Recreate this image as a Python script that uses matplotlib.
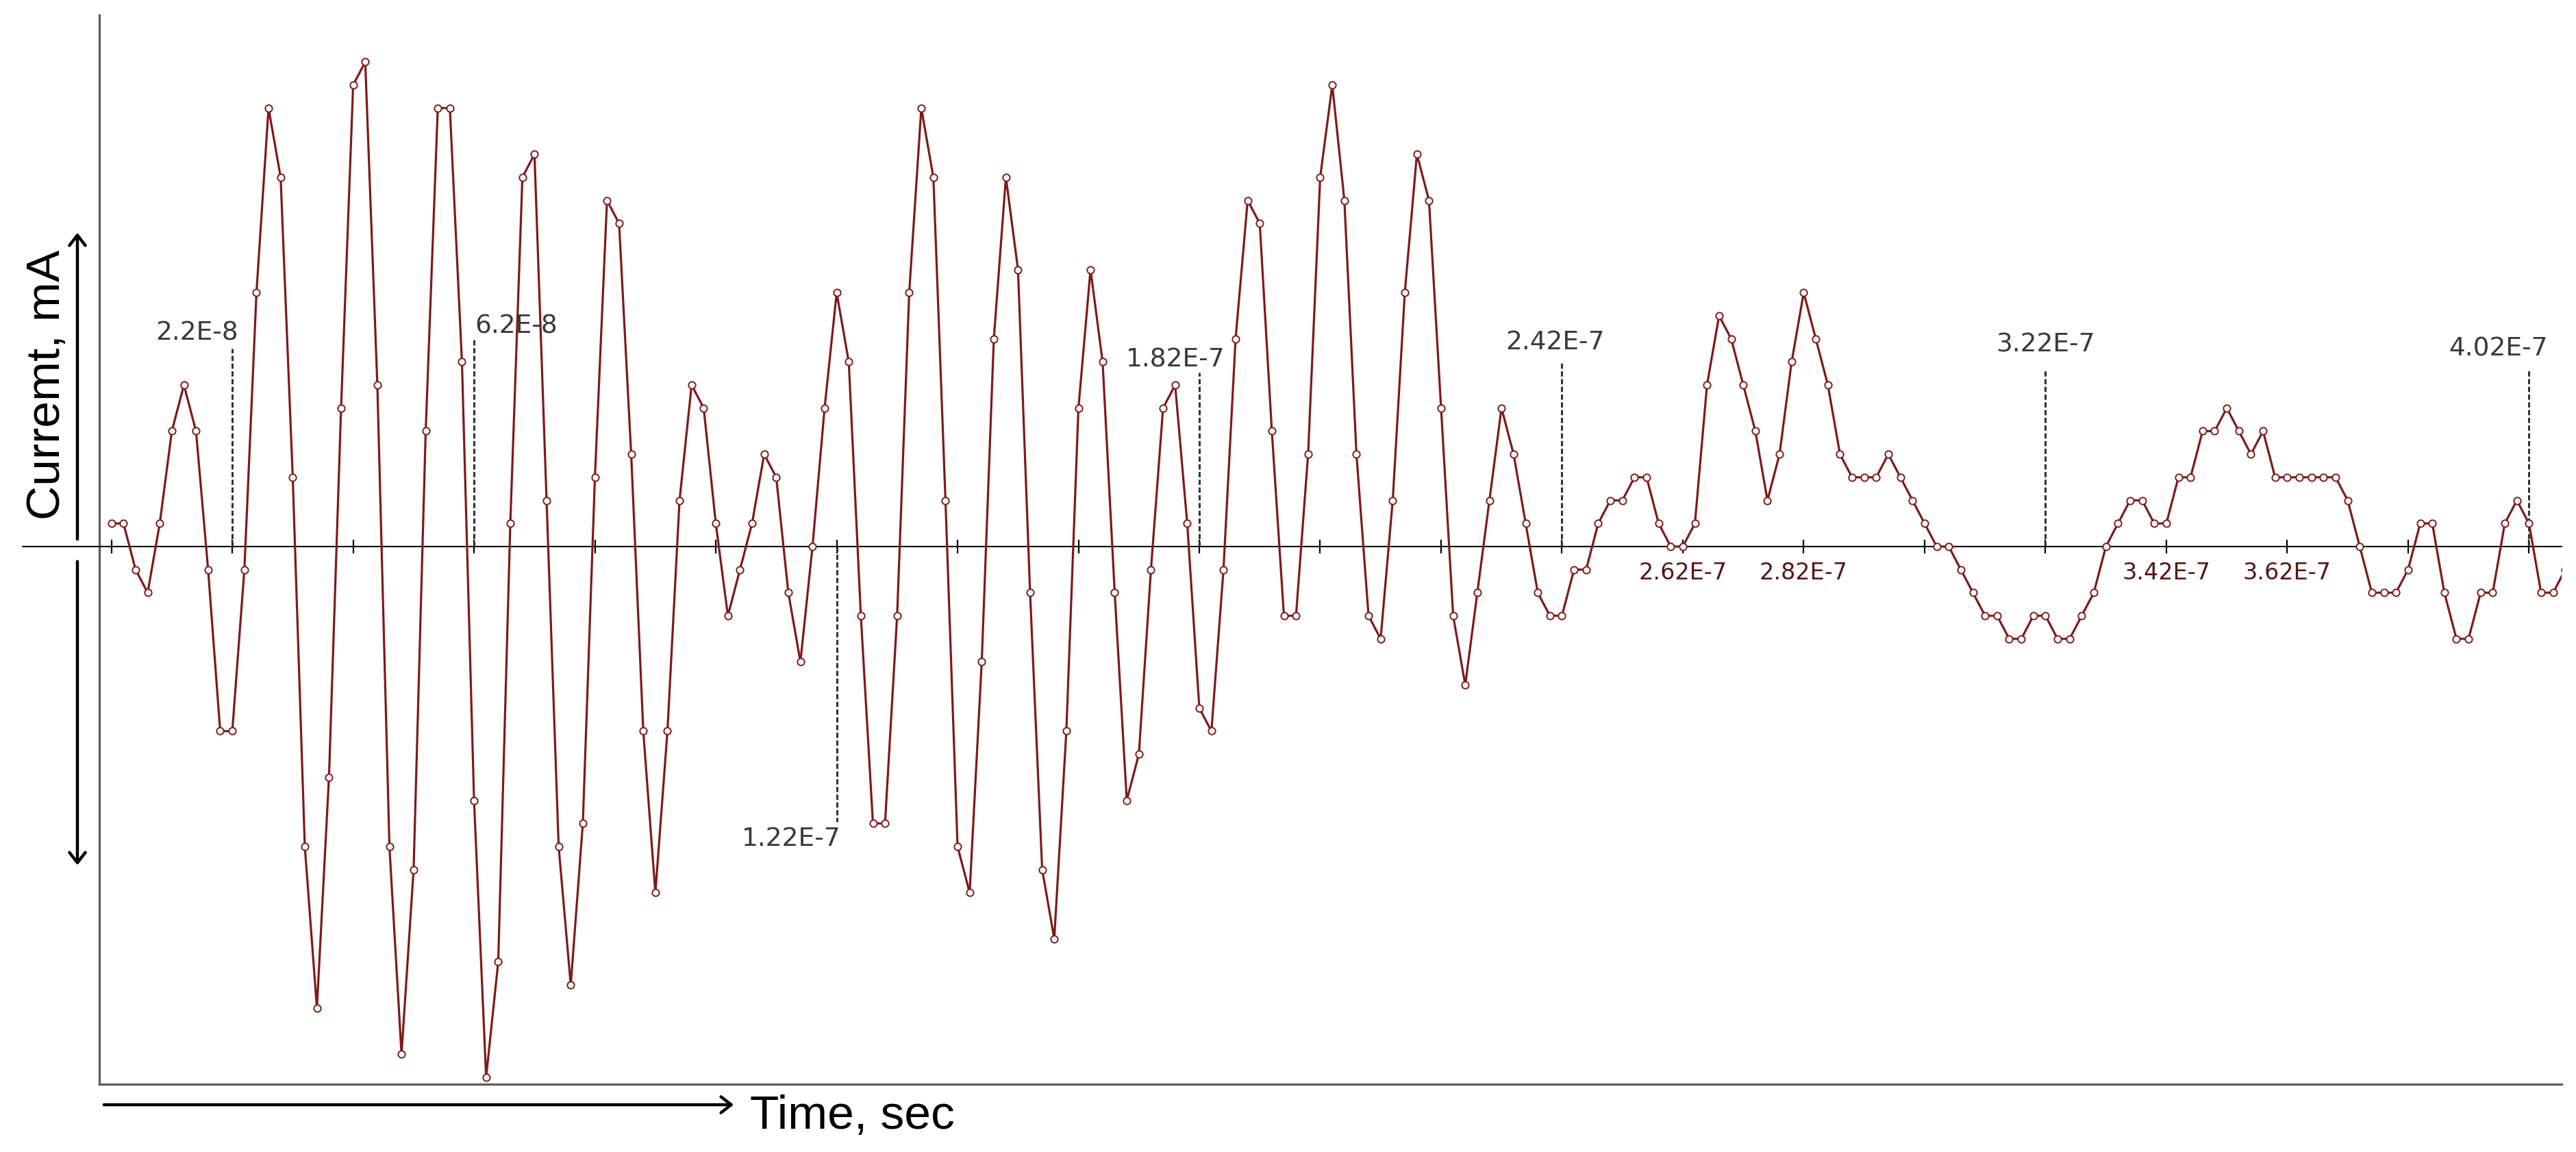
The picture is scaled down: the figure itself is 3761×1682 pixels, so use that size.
import numpy as np
import matplotlib
matplotlib.use('Agg')
import matplotlib.pyplot as plt
from matplotlib.patches import FancyArrowPatch

# one sample every 2 ns, current in arbitrary integer steps
dt = 2e-9
current = [1, 1, -1, -2, 1, 5, 7, 5, -1, -8,
           -8, -1, 11, 19, 16, 3, -13, -20, -10, 6,
           20, 21, 7, -13, -22, -14, 5, 19, 19, 8,
           -11, -23, -18, 1, 16, 17, 2, -13, -19, -12,
           3, 15, 14, 4, -8, -15, -8, 2, 7, 6,
           1, -3, -1, 1, 4, 3, -2, -5, 0, 6,
           11, 8, -3, -12, -12, -3, 11, 19, 16, 2,
           -13, -15, -5, 9, 16, 12, -2, -14, -17, -8,
           6, 12, 8, -2, -11, -9, -1, 6, 7, 1,
           -7, -8, -1, 9, 15, 14, 5, -3, -3, 4,
           16, 20, 15, 4, -3, -4, 2, 11, 17, 15,
           6, -3, -6, -2, 2, 6, 4, 1, -2, -3,
           -3, -1, -1, 1, 2, 2, 3, 3, 1, 0,
           0, 1, 7, 10, 9, 7, 5, 2, 4, 8,
           11, 9, 7, 4, 3, 3, 3, 4, 3, 2,
           1, 0, 0, -1, -2, -3, -3, -4, -4, -3,
           -3, -4, -4, -3, -2, 0, 1, 2, 2, 1,
           1, 3, 3, 5, 5, 6, 5, 4, 5, 3,
           3, 3, 3, 3, 3, 2, 0, -2, -2, -2,
           -1, 1, 1, -2, -4, -4, -2, -2, 1, 2,
           1, -2, -2, -1]
time = dt * (np.arange(len(current)) + 1)

tick_times = 2e-9 + 2e-8 * np.arange(21)
shown_tick_labels = ['2.62E-7', '2.82E-7', '3.42E-7', '3.62E-7']
marks_above = ['2.2E-8', '6.2E-8', '1.82E-7', '2.42E-7', '3.22E-7', '4.02E-7']
marks_below = ['1.22E-7']

# placement of the marker texts: (text x shift px, text centre y, dash end y)
mark_place = {'2.2E-8': (-52, 9.23, 8.58), '6.2E-8': (62, 9.53, 9.0),
              '1.82E-7': (-35, 8.10, 7.54), '2.42E-7': (-10, 8.84, 7.98),
              '3.22E-7': (0, 8.75, 7.7), '4.02E-7': (-45, 8.55, 7.7),
              '1.22E-7': (-66, -12.67, -11.93)}


def sci(t):
    m, e = f'{t:.2E}'.split('E')
    m = m.rstrip('0').rstrip('.')
    return f'{m}E{int(e)}'


W, H = 3761, 1682
fig = plt.figure(figsize=(W / 100, H / 100), dpi=100)


def fx(x):
    return x / W


def fy(y):
    return 1 - y / H


ax = fig.add_axes([fx(145), fy(1583), (3740 - 145) / W, (1583 - 22) / H])
ax.set_xlim(0, 4.074e-7)
ax.set_ylim(-23.3, 23.03)

red = '#7e1a1a'
ax.plot(time, current, color=red, lw=2.3, marker='o', ms=7.4,
        mfc='white', mec=red, mew=1.4, zorder=3)

# frame
for s in ['top', 'right']:
    ax.spines[s].set_visible(False)
ax.spines['left'].set_color('#606060')
ax.spines['left'].set_linewidth(2.4)
ax.spines['bottom'].set_position(('data', 0))
ax.spines['bottom'].set_color('black')
ax.spines['bottom'].set_linewidth(1.5)
ax.plot([0, 1], [0, 0], transform=ax.transAxes, color='#606060', lw=2.4,
        clip_on=False)
ax.plot([-0.0312, 0], [0, 0], transform=ax.get_yaxis_transform(),
        color='black', lw=1.5, clip_on=False)

ax.set_yticks([])
ax.set_xticks(tick_times)
ax.set_xticklabels([sci(t) if sci(t) in shown_tick_labels else ''
                    for t in tick_times])
ax.tick_params(axis='x', direction='inout', length=14, width=1.6,
               color='black', labelsize=24, labelcolor='#5a1414', pad=9)

# dashed marker lines with labels
for lab in marks_above + marks_below:
    t = float(lab)
    dx, yc, yend = mark_place[lab]
    ax.plot([t, t], [0, yend], color='#333333', lw=2.2,
            linestyle=(0, (2.5, 1.2)), zorder=2)
    ax.annotate(lab, xy=(t, yc), xytext=(dx * 0.72, 0),
                textcoords='offset points', ha='center', va='center',
                fontsize=27, color='#3a3a3a')

# axis captions with arrows
arrow_kw = dict(arrowstyle='->,head_length=0.54,head_width=0.42',
                mutation_scale=20, lw=3.2, color='black',
                transform=fig.transFigure)
fig.add_artist(FancyArrowPatch((fx(113), fy(790)), (fx(113), fy(337)), **arrow_kw))
fig.add_artist(FancyArrowPatch((fx(113), fy(817)), (fx(113), fy(1266)), **arrow_kw))
fig.add_artist(FancyArrowPatch((fx(149), fy(1613)), (fx(1074), fy(1613)), **arrow_kw))

fig.text(fx(87), fy(562), 'Curremt, mA', rotation=90, rotation_mode='anchor',
         ha='center', va='baseline', fontsize=50, family='Liberation Sans')
fig.text(fx(1095), fy(1648), 'Time, sec', ha='left', va='baseline',
         fontsize=50, family='Liberation Sans')

fig.savefig('out.png', dpi=100, facecolor='white')
